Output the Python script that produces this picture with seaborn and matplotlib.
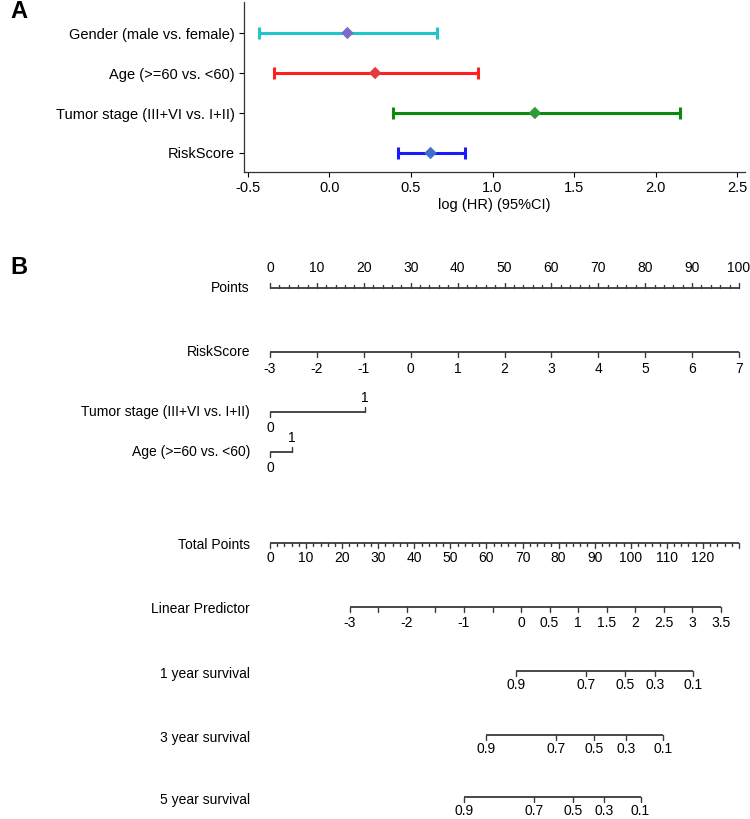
import matplotlib
matplotlib.use("Agg")
import matplotlib.pyplot as plt
import seaborn as sns
import numpy as np
import pandas as pd

# ---- panel A: forest plot values ----
variables = ["Gender (male vs. female)", "Age (>=60 vs. <60)",
             "Tumor stage (III+VI vs. I+II)", "RiskScore"]
log_hr = [0.11, 0.28, 1.26, 0.62]
ci_low = [-0.43, -0.34, 0.39, 0.42]
ci_high = [0.66, 0.91, 2.15, 0.83]
bar_colors = ["#22C5CC", "#FF1F1F", "#0B8A0B", "#1A1AFF"]
dot_colors = ["#7A6BC9", "#E63B3B", "#2E9B3A", "#3F6FCC"]
xticks_a = [-0.5, 0.0, 0.5, 1.0, 1.5, 2.0, 2.5]

# ---- panel B: nomogram scales (positions in "points") ----
points_labels = list(range(0, 101, 10))
risk_values = [-3, -2, -1, 0, 1, 2, 3, 4, 5, 6, 7]
risk_points = [0, 10, 20, 30, 40, 50, 60, 70, 80, 90, 100]
tumor_values = [0, 1]
tumor_points = [0, 20.2]
age_values = [0, 1]
age_points = [0, 4.7]
total_labels = list(range(0, 121, 10))
total_max = 130
lp_labels = [-3, -2, -1, 0, 0.5, 1, 1.5, 2, 2.5, 3, 3.5]
lp_range = [-3, 3.5]
lp_total_range = [22.1, 125.0]
surv_labels = ["0.9", "0.7", "0.5", "0.3", "0.1"]
surv_1yr_total = [68.3, 87.6, 98.3, 106.7, 117.3]
surv_3yr_total = [59.9, 79.3, 89.8, 98.6, 108.9]
surv_5yr_total = [53.9, 73.2, 83.9, 92.6, 102.7]

sns.set_theme(style="ticks")
plt.rcParams["font.family"] = ["Liberation Sans", "DejaVu Sans"]
plt.rcParams["text.color"] = "black"
plt.rcParams["axes.labelcolor"] = "black"
plt.rcParams["xtick.color"] = "black"
plt.rcParams["ytick.color"] = "black"

fig = plt.figure(figsize=(7.5, 8.19), dpi=100)
W, H = 750, 819

# ---------------- panel A ----------------
axA = fig.add_axes([244 / W, 1 - 172 / H, (745 - 244) / W, 170 / H])
df = pd.DataFrame({"var": variables, "hr": log_hr, "lo": ci_low, "hi": ci_high,
                   "row": range(len(variables))})
for i, r in df.iterrows():
    axA.errorbar(r["hr"], r["row"], xerr=[[r["hr"] - r["lo"]], [r["hi"] - r["hr"]]],
                 fmt="none", ecolor=bar_colors[i], elinewidth=2.2, capsize=4.5, capthick=2.2)
sns.scatterplot(data=df, x="hr", y="row", hue="var", palette=dot_colors, marker="D",
                s=40, edgecolor="none", legend=False, ax=axA, zorder=5)
axA.set_ylim(3.475, -0.775)
axA.set_xlim(-0.5245, 2.549)
axA.set_yticks(range(len(variables)))
axA.set_yticklabels(variables, fontsize=10.5)
axA.set_xticks(xticks_a)
axA.set_xticklabels([f"{v:.1f}" for v in xticks_a], fontsize=10.5)
axA.set_xlabel("log (HR) (95%CI)", fontsize=10.5, labelpad=2)
axA.set_ylabel("")
axA.tick_params(axis="both", length=3.5, width=0.8, pad=3)
sns.despine(ax=axA)
for s in ["left", "bottom"]:
    axA.spines[s].set_linewidth(0.9)
    axA.spines[s].set_color("#333333")
fig.text(10 / W, 1 - 12 / H, "A", fontsize=17, fontweight="bold", va="center", ha="left")

# ---------------- panel B ----------------
px_per_pt = (739 - 270) / 100.0
axB = fig.add_axes([0, 0, 1, (H - 240) / H])
axB.set_xlim(-270 / px_per_pt, (W - 270) / px_per_pt)
axB.set_ylim(H, 240)
axB.axis("off")
fig.text(10 / W, 1 - 268 / H, "B", fontsize=17, fontweight="bold", va="center", ha="left")

lc = "#3a3a3a"
lw = 1.3
fs = 10


def row_label(y, text):
    axB.text(-20 / px_per_pt, y, text, ha="right", va="center", fontsize=fs)


def hline(y, x0, x1):
    axB.plot([x0, x1], [y, y], color=lc, lw=lw, solid_capstyle="butt")


def tick(x, y, length):
    axB.plot([x, x], [y, y + length], color=lc, lw=1.0)


# Points
y = 288
row_label(y, "Points")
hline(y, 0, 100)
for v in np.arange(0, 101, 2):
    tick(v, y, -5 if v % 10 == 0 else -3)
for v in points_labels:
    axB.text(v, y - 20, str(v), ha="center", va="center", fontsize=fs)

# RiskScore
y = 352
row_label(y, "RiskScore")
hline(y, risk_points[0], risk_points[-1])
for v, p in zip(risk_values, risk_points):
    tick(p, y, 5)
    axB.text(p, y + 17, str(v), ha="center", va="center", fontsize=fs)

# categorical rows
for y, name, vals, pts in [(412, "Tumor stage (III+VI vs. I+II)", tumor_values, tumor_points),
                           (452, "Age (>=60 vs. <60)", age_values, age_points)]:
    row_label(y, name)
    hline(y, pts[0], pts[1])
    tick(pts[0], y, 5)
    axB.text(pts[0], y + 16, str(vals[0]), ha="center", va="center", fontsize=fs)
    tick(pts[1], y, -5)
    axB.text(pts[1], y - 14, str(vals[1]), ha="center", va="center", fontsize=fs)

# Total Points
scale_tp = 100.0 / total_max
y = 543
row_label(y + 2, "Total Points")
hline(y, 0, total_max * scale_tp)
for v in np.arange(0, total_max + 1, 2):
    tick(v * scale_tp, y, 5 if v % 10 == 0 else 3)
for v in total_labels:
    axB.text(v * scale_tp, y + 15, str(v), ha="center", va="center", fontsize=fs)

# Linear Predictor
y = 607
row_label(y + 2, "Linear Predictor")
lp_ticks = np.arange(lp_range[0], lp_range[1] + 0.01, 0.5)
lp_pos = np.interp(lp_ticks, lp_range, lp_total_range) * scale_tp
hline(y, lp_pos[0], lp_pos[-1])
for p in lp_pos:
    tick(p, y, 5)
for v in lp_labels:
    p = np.interp(v, lp_range, lp_total_range) * scale_tp
    axB.text(p, y + 16, f"{v:g}", ha="center", va="center", fontsize=fs)

# survival rows
for y, name, tps in [(671, "1 year survival", surv_1yr_total),
                     (735, "3 year survival", surv_3yr_total),
                     (797, "5 year survival", surv_5yr_total)]:
    row_label(y + 3, name)
    pos = [t * scale_tp for t in tps]
    hline(y, pos[0], pos[-1])
    for p, lab in zip(pos, surv_labels):
        tick(p, y, 5)
        axB.text(p, y + 14, lab, ha="center", va="center", fontsize=fs)

fig.savefig("out.png", dpi=100)
